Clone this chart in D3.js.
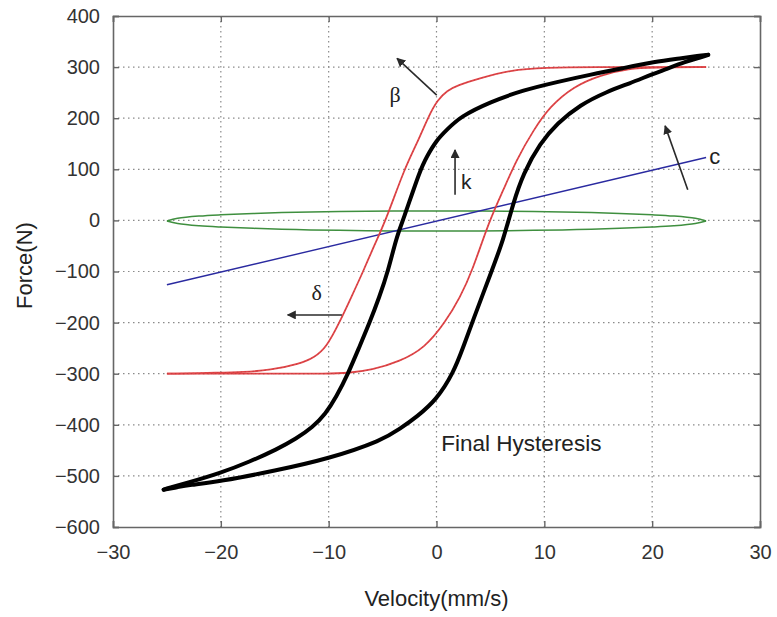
<!DOCTYPE html>
<html>
<head>
<meta charset="utf-8">
<script src="https://cdn.jsdelivr.net/npm/d3@7"></script>
<style>
  html, body { margin: 0; padding: 0; background: #fff; }
  svg { display: block; font-family: "Liberation Sans", Arial, sans-serif; }
</style>
</head>
<body>
<svg id="chart" width="777" height="617"></svg>
<script>
// ---- data ----
const xTicks = [-30, -20, -10, 0, 10, 20, 30];
const yTicks = [400, 300, 200, 100, 0, -100, -200, -300, -400, -500, -600];

// Final hysteresis (black), upper branch: right tip -> left tip
const blackUpperV = [25.2, 24.2, 23, 20.1, 17.3, 14.2, 11.2, 8.05, 5.0, 2.2, 0.95, 0, -0.9, -1.5, -3.1, -3.7, -4.5, -5.3, -6.2, -7.2, -8.2, -9.3, -10.3, -11.5, -13, -14.8, -17.3, -20.1, -23, -24.9, -25.3];
const blackUpperF = [324, 322, 318, 310, 298, 285, 271, 255, 232, 203, 177, 157, 125, 100, 0, -32, -100, -150, -200, -250, -300, -346, -379, -405, -427, -448, -472, -495, -513, -524, -527];
// lower branch: left tip -> right tip
const blackLowerV = [-25.3, -24, -23, -20.1, -15, -9.9, -5, -3.4, -1.8, 0, 1.56, 2.5, 3.3, 5.1, 6.2, 7.1, 8.05, 9.6, 11.2, 13.3, 15.8, 17.9, 20, 21.3, 23, 24.5, 25.2];
const blackLowerF = [-527, -522, -518, -511, -490, -466, -430, -408, -384, -351, -299, -247, -200, -100, -38, 33, 92, 151, 190, 226, 252, 268, 286, 296, 310, 319, 324];

// red (initial model) loop
const redUpperV = [25, 20, 15, 10, 6.8, 4.0, 1.9, 1.0, 0.1, -0.76, -1.8, -3.0, -4.7, -5.8, -6.8, -7.9, -9.0, -10.2, -11.3, -12.7, -15.4, -18, -20, -25];
const redUpperF = [300, 300, 300, 299, 294, 278, 264, 254, 236, 203, 151, 100, 0, -50, -100, -150, -200, -248, -268, -281, -293, -297, -298, -300];
const redLowerV = [-25, -20, -15, -10, -8.3, -6, -3.4, -1.1, 0.8, 2.2, 3.3, 4.9, 6.2, 7.4, 9.0, 10.5, 12.7, 15.2, 17.9, 20, 25];
const redLowerF = [-300, -300, -300, -300, -299, -293, -276, -250, -200, -150, -100, 0, 59.5, 118, 177, 222.5, 262, 284.5, 297.6, 299, 300];

// green (stiffness) loop
const greenV = [-25, -24, -22, -20, -17, -13, -9, -4, 0, 4, 9, 13, 17, 20, 22, 24, 25];
const greenUpperF = [-1, 4, 8.5, 11, 13.5, 16, 17.5, 18.5, 18.5, 18.5, 17.5, 16, 13.5, 11, 8.5, 4, -1];
const greenLowerF = [-1, -6, -10.5, -13, -15.5, -18, -19.5, -20.5, -20.5, -20.5, -19.5, -18, -15.5, -13, -10.5, -6, -1];

// blue (viscous) line
const blueV = [-25, 25];
const blueF = [-126, 123];

// annotations (data coordinates)
const arrowsData = [
  {x1: 0.02, y1: 245, x2: -3.66, y2: 317},   // beta
  {x1: 1.72, y1: 50, x2: 1.72, y2: 138},     // k
  {x1: 23.3, y1: 60, x2: 21.2, y2: 185},     // c
  {x1: -8.77, y1: -185, x2: -13.8, y2: -185} // delta
];
const labelsData = [
  {text: "β", x: -3.85, y: 241, size: 22, anchor: "middle", serif: true},
  {text: "k", x: 2.75, y: 72, size: 21, anchor: "middle", serif: false},
  {text: "c", x: 25.8, y: 121, size: 22, anchor: "middle", serif: false},
  {text: "δ", x: -11.1, y: -146, size: 22, anchor: "middle", serif: true},
  {text: "Final Hysteresis", x: 0.45, y: -440, size: 22.5, anchor: "start", serif: false}
];

// ---- layout ----
const svg = d3.select("#chart");
const L = 113, R = 760, T = 16, B = 527;
const x = d3.scaleLinear().domain([-30, 30]).range([L, R]);
const y = d3.scaleLinear().domain([-600, 400]).range([B, T]);

// grid
const grid = svg.append("g");
grid.selectAll("line.gx").data(xTicks.slice(1, -1)).enter().append("line")
  .attr("x1", d => x(d)).attr("x2", d => x(d)).attr("y1", T).attr("y2", B)
  .attr("stroke", "#8a8a8a").attr("stroke-width", 1.2).attr("stroke-dasharray", "1.5,3.5");
grid.selectAll("line.gy").data(yTicks.slice(1, -1)).enter().append("line")
  .attr("x1", L).attr("x2", R).attr("y1", d => y(d)).attr("y2", d => y(d))
  .attr("stroke", "#8a8a8a").attr("stroke-width", 1.2).attr("stroke-dasharray", "1.5,3.5");

// axes (inward ticks, MATLAB style)
const axisCol = "#666";
const fmt = d => d < 0 ? "\u2212" + Math.abs(d) : d;
const xAxis = svg.append("g").attr("transform", `translate(0,${B})`)
  .call(d3.axisBottom(x).tickValues(xTicks).tickSize(-6).tickPadding(18).tickFormat(fmt));
const yAxis = svg.append("g").attr("transform", `translate(${L},0)`)
  .call(d3.axisLeft(y).tickValues(yTicks).tickSize(-6).tickPadding(13).tickFormat(fmt));
const xAxisTop = svg.append("g").attr("transform", `translate(0,${T})`)
  .call(d3.axisTop(x).tickValues(xTicks).tickSize(-6).tickFormat(""));
const yAxisRight = svg.append("g").attr("transform", `translate(${R},0)`)
  .call(d3.axisRight(y).tickValues(yTicks).tickSize(-6).tickFormat(""));
[xAxis, yAxis, xAxisTop, yAxisRight].forEach(g => {
  g.select(".domain").attr("stroke", axisCol).attr("stroke-width", 1.6);
  g.selectAll(".tick line").attr("stroke", axisCol).attr("stroke-width", 1.4);
  g.selectAll("text").attr("fill", "#333").attr("font-size", 20)
    .attr("font-family", "'Liberation Sans', Arial, sans-serif");
});

// curves
const zip = (a, b) => a.map((v, i) => [v, b[i]]);
const smooth = d3.line().x(d => x(d[0])).y(d => y(d[1])).curve(d3.curveBasis);
const round = d3.line().x(d => x(d[0])).y(d => y(d[1])).curve(d3.curveCatmullRom.alpha(0.5));

const plot = svg.append("g");
// green
[zip(greenV, greenUpperF), zip(greenV, greenLowerF)].forEach(pts => {
  plot.append("path").datum(pts).attr("d", round)
    .attr("fill", "none").attr("stroke", "#3f8f3f").attr("stroke-width", 1.5);
});
// blue
plot.append("path").datum(zip(blueV, blueF))
  .attr("d", d3.line().x(d => x(d[0])).y(d => y(d[1])))
  .attr("fill", "none").attr("stroke", "#2a2aa0").attr("stroke-width", 1.4);
// red
[zip(redUpperV, redUpperF), zip(redLowerV, redLowerF)].forEach(pts => {
  plot.append("path").datum(pts).attr("d", smooth)
    .attr("fill", "none").attr("stroke", "#e2474a").attr("stroke-width", 1.8);
  plot.append("path").datum(pts).attr("d", smooth)
    .attr("fill", "none").attr("stroke", "#9a2a2a").attr("stroke-width", 0.8)
    .attr("stroke-dasharray", "1.5,2.5").attr("opacity", 0.5);
});
// black loop
[zip(blackUpperV, blackUpperF), zip(blackLowerV, blackLowerF)].forEach(pts => {
  plot.append("path").datum(pts).attr("d", smooth)
    .attr("fill", "none").attr("stroke", "#000").attr("stroke-width", 4)
    .attr("stroke-linecap", "round").attr("stroke-linejoin", "round");
});

// arrows
svg.append("defs").append("marker").attr("id", "ah")
  .attr("viewBox", "0 0 10 10").attr("refX", 9).attr("refY", 5)
  .attr("markerWidth", 9).attr("markerHeight", 9).attr("markerUnits", "userSpaceOnUse")
  .attr("orient", "auto")
  .append("path").attr("d", "M0,0 L10,5 L0,10 Z").attr("fill", "#2a2a2a");
svg.append("g").selectAll("line").data(arrowsData).enter().append("line")
  .attr("x1", d => x(d.x1)).attr("y1", d => y(d.y1))
  .attr("x2", d => x(d.x2)).attr("y2", d => y(d.y2))
  .attr("stroke", "#2a2a2a").attr("stroke-width", 1.6).attr("marker-end", "url(#ah)");

// labels
svg.append("g").selectAll("text").data(labelsData).enter().append("text")
  .attr("x", d => x(d.x)).attr("y", d => y(d.y))
  .attr("text-anchor", d => d.anchor).attr("dominant-baseline", "middle")
  .attr("font-size", d => d.size)
  .attr("font-family", d => d.serif ? "'Liberation Serif', 'DejaVu Serif', serif" : "'Liberation Sans', Arial, sans-serif")
  .attr("fill", "#222").text(d => d.text);

// axis titles
svg.append("text").attr("x", (L + R) / 2).attr("y", 600)
  .attr("text-anchor", "middle").attr("dominant-baseline", "middle")
  .attr("font-size", 22).attr("fill", "#222").text("Velocity(mm/s)");
svg.append("text").attr("transform", `translate(26,${(T + B) / 2 - 6}) rotate(-90)`)
  .attr("text-anchor", "middle").attr("dominant-baseline", "middle")
  .attr("font-size", 22).attr("fill", "#222").text("Force(N)");
</script>
</body>
</html>
